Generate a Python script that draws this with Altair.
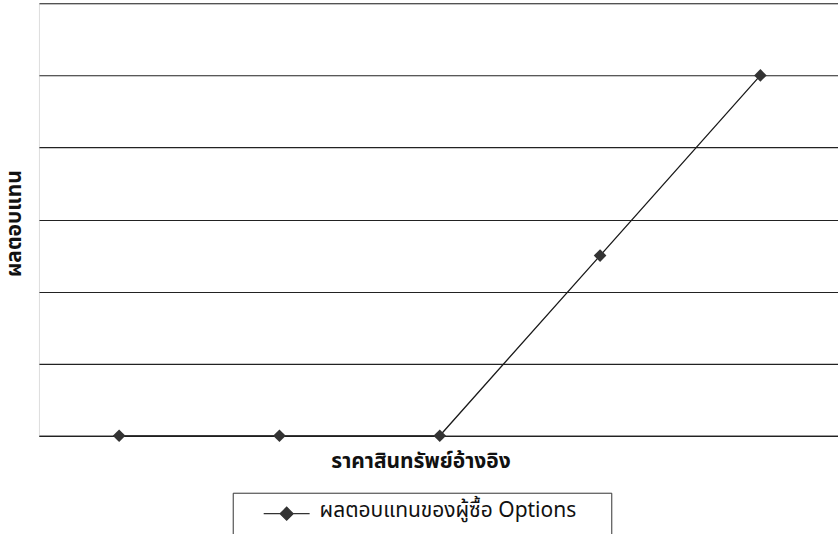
import altair as alt
import pandas as pd

# Data
x_index = [1, 2, 3, 4, 5]
payoff = [0, 0, 0, 2.5, 5]
series_name = ["ผลตอบแทนของผู้ซื้อ Options"] * 5

df = pd.DataFrame({"x": x_index, "payoff": payoff, "series": series_name})

FONT = "Noto Sans Thai, Tahoma, Noto Sans, DejaVu Sans, sans-serif"
DARK = "#333333"

x_enc = alt.X(
    "x:Q",
    scale=alt.Scale(domain=[0.5, 5.484], nice=False, zero=False),
    axis=alt.Axis(
        title="ราคาสินทรัพย์อ้างอิง",
        labels=False, ticks=False, grid=False,
        domain=True, domainColor="#222222", domainWidth=1.2,
        titleFont=FONT, titleFontSize=21, titleFontWeight="bold", titleColor="#111111",
        titleX=382, titleY=32, titleAlign="center", titleBaseline="alphabetic",
    ),
)
y_enc = alt.Y(
    "payoff:Q",
    scale=alt.Scale(domain=[0, 6], nice=False),
    axis=alt.Axis(
        title="ผลตอบแทน",
        labels=False, ticks=False, domain=False,
        grid=True, gridColor="#222222", gridWidth=1.1, values=[0, 1, 2, 3, 4, 5, 6],
        titleFont=FONT, titleFontSize=21, titleFontWeight="bold", titleColor="#111111",
        titleAngle=-90, titleX=-18, titleY=220, titleAlign="center", titleBaseline="alphabetic",
    ),
)

line = alt.Chart(df).mark_line(color="#1a1a1a", strokeWidth=1.3).encode(x=x_enc, y=y_enc)

# custom legend symbol: short line with a diamond, shifted inside the legend box
sym_path = (
    "M1.238,0.286L5.619,0.286"
    "M2.81,0.286L3.429,-0.333L4.048,0.286L3.429,0.905Z"
    "M33.48,0.286M0,2.24"
)

points = alt.Chart(df).mark_point(
    shape="diamond", filled=True, size=160, opacity=1
).encode(
    x=x_enc,
    y=y_enc,
    color=alt.Color(
        "series:N",
        scale=alt.Scale(range=[DARK]),
        legend=alt.Legend(
            title=None,
            orient="none",
            legendX=194,
            legendY=490,
            padding=6.5,
            strokeColor="#333333",
            fillColor="white",
            symbolType=sym_path,
            symbolSize=441,
            symbolFillColor=DARK,
            symbolStrokeColor=DARK,
            symbolStrokeWidth=1.2,
            symbolOpacity=1,
            labelOffset=57.5,
            labelFont=FONT,
            labelFontSize=21,
            labelColor="#111111",
            labelLimit=500,
        ),
    ),
)

chart = (
    alt.layer(line, points)
    .properties(
        width=800,
        height=433,
        autosize=alt.AutoSizeParams(type="none"),
        padding={"left": 39, "top": 3, "right": 0, "bottom": 98},
    )
    .configure_view(stroke="#777777", strokeWidth=1.5)
    .configure(background="white")
)

chart.save("out.html", embed_options={"renderer": "svg", "actions": False})
